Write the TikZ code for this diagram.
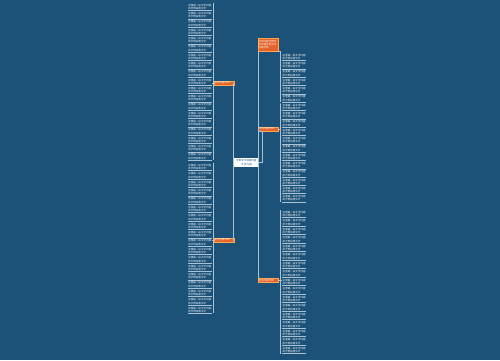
\documentclass[tikz,border=0pt]{standalone}
\usepackage{fontspec}
\newfontfamily\cjk{Noto Sans CJK SC}
\XeTeXlinebreaklocale "zh"
\XeTeXlinebreakskip=0pt plus 0.1pt
\definecolor{bgblue}{HTML}{1C5277}
\definecolor{topicorange}{HTML}{E4632B}
\definecolor{linkblue}{HTML}{A8C3D6}
\newcommand{\leaftext}{这里是一段文字内容的示例段落文字}
\tikzset{
  leaf/.style={inner sep=0.2pt, text width=0.46cm, align=left, text=white,
    font=\cjk\fontsize{1.45}{1.9}\selectfont},
  topic/.style={fill=topicorange, draw=orange!70!white, line width=0.2pt,
    inner sep=0.3pt, text width=0.38cm, align=left, text=white,
    font=\cjk\fontsize{1.45}{1.8}\selectfont},
  rootbox/.style={fill=white, inner sep=0.6pt, text width=0.44cm, align=center,
    text=bgblue, font=\cjk\fontsize{1.45}{2}\selectfont},
  link/.style={draw=linkblue, line width=0.3pt},
}
\begin{document}
\begin{tikzpicture}[x=0.02cm, y=-0.02cm]
\useasboundingbox[fill=bgblue] (0,0) rectangle (500,360);

% centre
\node[rootbox, minimum height=0.18cm] (root) at (246.5,162.5) {示例文字标题内容\\文字内容};

% main topics
\node[topic, minimum height=0.08cm] (l1) at (224,83) {文字内容示例};
\node[topic, minimum height=0.08cm] (l2) at (224,240) {文字内容示例};
\node[topic, minimum height=0.26cm] (r1) at (268,44.5) {文字内容示例文字内容示例文字内容示例};
\node[topic, minimum height=0.08cm] (r2) at (268,129) {文字内容示例};
\node[topic, minimum height=0.08cm] (r3) at (268,280.5) {文字内容示例};

\draw[link] (root.west) -- ++(-1,0) |- (l1.east);
\draw[link] (root.west) -- ++(-1,0) |- (l2.east);
\draw[link] (root.east) -| (r1.south west);
\draw[link] (root.east) -- ++(3,0) |- (r2.south west);
\draw[link] (root.east) -| (r3.north west);

% left leaves
\foreach \i in {1,...,19} {
  \node[leaf, anchor=east] (la\i) at (212,{7+8.3*(\i-1)}) {\leaftext};
  \draw[link, line width=0.15pt] (la\i.south west) -- (la\i.south east);
}
\foreach \i in {1,...,18} {
  \node[leaf, anchor=east] (lb\i) at (212,{167+8.4*(\i-1)}) {\leaftext};
  \draw[link, line width=0.15pt] (lb\i.south west) -- (lb\i.south east);
}
\draw[link] ([xshift=1pt]la1.north east) -- ([xshift=1pt]la19.south east);
\draw[link] ([xshift=1pt]lb1.north east) -- ([xshift=1pt]lb18.south east);
\draw[link] (l1.west) -- (l1.west -| la1.east);
\draw[link] (l2.west) -- (l2.west -| lb1.east);

% right leaves
\foreach \i in {1,...,6} {
  \node[leaf, anchor=west] (ra\i) at (282,{57+8.3*(\i-1)}) {\leaftext};
  \draw[link, line width=0.15pt] (ra\i.south west) -- (ra\i.south east);
}
\foreach \i in {1,...,12} {
  \node[leaf, anchor=west] (rb\i) at (282,{107+8.3*(\i-1)}) {\leaftext};
  \draw[link, line width=0.15pt] (rb\i.south west) -- (rb\i.south east);
}
\foreach \i in {1,...,17} {
  \node[leaf, anchor=west] (rc\i) at (282,{214+8.5*(\i-1)}) {\leaftext};
  \draw[link, line width=0.15pt] (rc\i.south west) -- (rc\i.south east);
}
\draw[link] (r1.south east) -| ([xshift=-1pt]ra6.south west);
\draw[link] (r2.east) -| ([xshift=-1pt]rb1.north west) -- ([xshift=-1pt]rb12.south west);
\draw[link] ([xshift=-1pt]rc1.north west) -- ([xshift=-1pt]rc17.south west);
\draw[link] (r3.east) -- (r3.east -| rc1.west);
\end{tikzpicture}
\end{document}
